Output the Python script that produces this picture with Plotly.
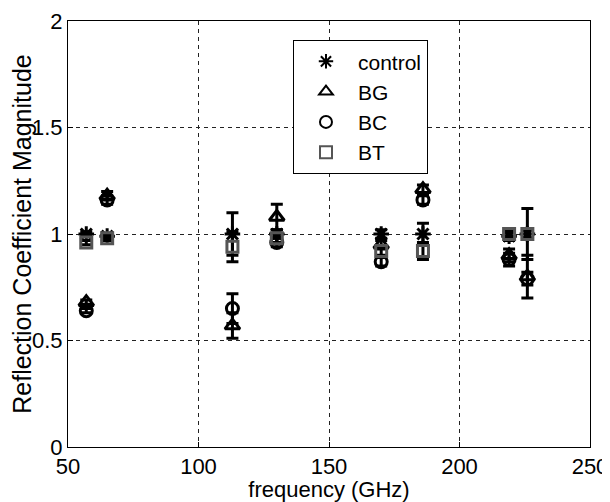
import plotly.graph_objects as go

freq = [57, 65, 113, 130, 170, 186, 219, 226]

control = [1.00, 0.99, 1.00, 1.00, 1.00, 1.00, 0.99, 1.00]
control_err = [0.01, 0.01, 0.10, 0.02, 0.02, 0.05, 0.02, 0.12]

bg = [0.68, 1.18, 0.57, 1.08, 0.95, 1.21, 0.90, 0.80]
bg_err = [0.01, 0.02, 0.06, 0.06, 0.02, 0.02, 0.03, 0.10]

bc = [0.64, 1.16, 0.65, 0.96, 0.87, 1.16, 0.88, 0.79]
bc_err = [0.01, 0.02, 0.07, 0.02, 0.02, 0.02, 0.03, 0.03]

bt = [0.96, 0.98, 0.94, 0.98, 0.92, 0.92, 1.00, 1.00]
bt_err = [0.01, 0.01, 0.07, 0.02, 0.02, 0.04, 0.02, 0.02]

series = [
    ("control", control, control_err, "asterisk-open", 13, "black"),
    ("BG", bg, bg_err, "triangle-up-open", 13, "black"),
    ("BC", bc, bc_err, "circle-open", 12, "black"),
    ("BT", bt, bt_err, "square-open", 11, "#555555"),
]

fig = go.Figure()
for name, ys, err, sym, size, col in series:
    fig.add_trace(go.Scatter(
        x=freq, y=ys, mode="markers", name=name,
        marker=dict(symbol=sym, size=size, color=col, line=dict(width=3, color=col)),
        error_y=dict(type="data", array=err, visible=True, color="black", thickness=3, width=6),
    ))

font = "Arial, Liberation Sans, sans-serif"
axis_common = dict(
    showline=True, linecolor="black", linewidth=1, mirror=True,
    showgrid=True, gridcolor="#222222", griddash="4px,4px", gridwidth=1,
    ticks="inside", ticklen=5, tickcolor="black",
    zeroline=False, automargin=False,
    tickfont=dict(family=font, size=22, color="black"),
)

# page body has an 8px margin, so the figure is sized to fit the window
fig.update_layout(
    width=602, height=494,
    margin=dict(l=60, r=20, t=13, b=55),
    paper_bgcolor="white", plot_bgcolor="white",
    showlegend=True,
    legend=dict(
        x=0.431, y=0.955, xanchor="left", yanchor="top",
        bgcolor="white", bordercolor="black", borderwidth=1,
        font=dict(family=font, size=21, color="black"),
        itemsizing="constant", itemwidth=54,
    ),
    xaxis=dict(range=[50, 250], tickvals=[50, 100, 150, 200, 250],
               title=dict(text="frequency (GHz)", font=dict(family=font, size=22, color="black"), standoff=0),
               **axis_common),
    yaxis=dict(range=[0, 2], tickvals=[0, 0.5, 1, 1.5, 2], ticktext=["0", "0.5", "1", "1.5", "2"],
               title=dict(text="Reflection Coefficient Magnitude", font=dict(family=font, size=25, color="black"), standoff=2),
               **axis_common),
)

fig.write_html("out.html")
